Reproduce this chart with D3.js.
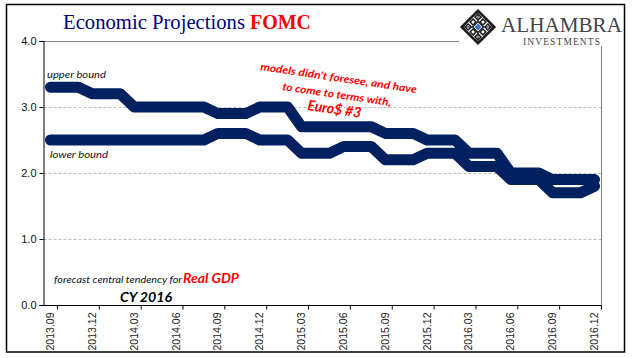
<!DOCTYPE html>
<html><head><meta charset="utf-8">
<script src="https://cdn.jsdelivr.net/npm/d3@7/dist/d3.min.js"></script>
<style>html,body{margin:0;padding:0;background:#fff}svg{display:block}</style>
</head><body><svg id="c" width="641" height="358"></svg>
<script>
const months=["2013.09","2013.10","2013.11","2013.12","2014.01","2014.02","2014.03","2014.04","2014.05","2014.06","2014.07","2014.08","2014.09","2014.10","2014.11","2014.12","2015.01","2015.02","2015.03","2015.04","2015.05","2015.06","2015.07","2015.08","2015.09","2015.10","2015.11","2015.12","2016.01","2016.02","2016.03","2016.04","2016.05","2016.06","2016.07","2016.08","2016.09","2016.10","2016.11","2016.12"];
const upperBound=[3.3,3.3,3.3,3.2,3.2,3.2,3.0,3.0,3.0,3.0,3.0,3.0,2.9,2.9,2.9,3.0,3.0,3.0,2.7,2.7,2.7,2.7,2.7,2.7,2.6,2.6,2.6,2.5,2.5,2.5,2.3,2.3,2.3,2.0,2.0,2.0,1.9,1.9,1.9,1.9];
const lowerBound=[2.5,2.5,2.5,2.5,2.5,2.5,2.5,2.5,2.5,2.5,2.5,2.5,2.6,2.6,2.6,2.5,2.5,2.5,2.3,2.3,2.3,2.4,2.4,2.4,2.2,2.2,2.2,2.3,2.3,2.3,2.1,2.1,2.1,1.9,1.9,1.9,1.7,1.7,1.7,1.8];
const yTicks=[0,1,2,3,4];
const tickMonths=months.filter((d,i)=>i%3===0);

const svg=d3.select("#c");
svg.append("rect").attr("x",6.5).attr("y",4.5).attr("width",618).attr("height",347.5)
  .attr("fill","#fff").attr("stroke","#000").attr("stroke-width",1.5);

const x=d3.scaleBand().domain(months).range([43.5,601.5]);
const y=d3.scaleLinear().domain([0,4]).range([305,41]);
const cx=d=>x(d)+x.bandwidth()/2;

// grid
svg.append("g").selectAll("line").data([1,2,3]).join("line")
  .attr("x1",x.range()[0]).attr("x2",x.range()[1]).attr("y1",d=>Math.round(y(d))+.5).attr("y2",d=>Math.round(y(d))+.5)
  .attr("stroke","#bdbdbd").attr("stroke-width",1).attr("stroke-dasharray","3 2");
// plot top / right border
svg.append("path").attr("d",`M${x.range()[0]},${y(4)+.5}H${x.range()[1]}V${y(0)}`)
  .attr("fill","none").attr("stroke","#808080").attr("stroke-width",1);

// series
const line=d3.line().x((d,i)=>cx(months[i])).y(d=>y(d));
[upperBound,lowerBound].forEach(s=>{
  svg.append("path").attr("d",line(s)).attr("fill","none").attr("stroke","#002060")
    .attr("stroke-width",11).attr("stroke-linejoin","round").attr("stroke-linecap","round");
});

// axes
const yAxis=svg.append("g").attr("transform",`translate(${x.range()[0]},0)`)
  .call(d3.axisLeft(y).tickValues(yTicks).tickFormat(d3.format(".1f")).tickSize(4).tickPadding(3));
yAxis.selectAll("path,line").attr("stroke","#000").attr("stroke-width",1);
yAxis.selectAll("text").attr("font-family","'Liberation Sans',Arial,sans-serif").attr("font-size",11).attr("fill","#111");

const xAxis=svg.append("g").attr("transform",`translate(0,${y(0)+.5})`)
  .call(d3.axisBottom(x).tickValues(tickMonths).tickSize(0).tickPadding(0));
xAxis.select(".domain").remove();
xAxis.selectAll("text").attr("font-family","'Liberation Sans',Arial,sans-serif").attr("font-size",10.5).attr("fill","#222")
  .attr("text-anchor","end").attr("dy",0)
  .attr("transform","translate(3.5,7) rotate(-90)");
const xMarks=svg.append("g").attr("transform",`translate(${x.bandwidth()/2},${y(0)+.5})`)
  .call(d3.axisBottom(x).tickValues(tickMonths).tickSize(4).tickFormat(""));
xMarks.select(".domain").remove();
xMarks.selectAll("line").attr("stroke","#000");
svg.append("line").attr("x1",x.range()[0]).attr("x2",x.range()[1]).attr("y1",y(0)+.5).attr("y2",y(0)+.5).attr("stroke","#000").attr("stroke-width",1.2);

// title
const serif="'Liberation Serif','Times New Roman',serif";
svg.append("text").attr("x",63).attr("y",29).attr("font-family",serif).attr("font-size",20).attr("fill","#000080")
  .attr("textLength",182).attr("lengthAdjust","spacingAndGlyphs").text("Economic Projections");
svg.append("text").attr("x",250).attr("y",29).attr("font-family",serif).attr("font-size",20).attr("font-weight","bold").attr("fill","#ff0000")
  .attr("textLength",61).attr("lengthAdjust","spacingAndGlyphs").text("FOMC");

// annotations
const ann="Lato,'Open Sans',sans-serif";
const note=(t,px,py,fs,fill,w,len)=>svg.append("text").attr("x",px).attr("y",py).attr("font-family",ann).attr("font-style","italic")
  .attr("font-size",fs).attr("font-weight",w).attr("fill",fill).attr("textLength",len).attr("lengthAdjust","spacingAndGlyphs").text(t);
note("upper bound",47,78,10,"#111","normal",59);
note("lower bound",50,158,10,"#111","normal",58);
note("forecast central tendency for",54,283,10,"#111","normal",128);
note("Real GDP",183,283,14,"#ff0000","bold",56);
note("CY 2016",120,302,14,"#000","bold",52);
const rot=(t,px,py,fs,len)=>svg.append("text").attr("transform",`translate(${px},${py}) rotate(8.4)`).attr("font-family",ann).attr("font-style","italic")
  .attr("font-weight","bold").attr("font-size",fs).attr("fill","#ff0000").attr("textLength",len).attr("lengthAdjust","spacingAndGlyphs").text(t);
rot("models didn't foresee, and have",260,70,10.5,158);
rot("to come to terms with,",282,90,10.5,110);
rot("Euro$ #3",307,110,14.5,54);

// logo
const logo=svg.append("g");
logo.append("rect").attr("x",459).attr("y",6).attr("width",164).attr("height",40).attr("fill","#fff");
const g=logo.append("g").attr("transform","translate(478,27) rotate(45)");
const sq=(s,fill,stroke,sw,ox=0,oy=0)=>g.append("rect").attr("x",ox-s/2).attr("y",oy-s/2).attr("width",s).attr("height",s).attr("fill",fill).attr("stroke",stroke).attr("stroke-width",sw);
sq(23,"#fff","#1a1a1a",2.6);
[-7,0,7].forEach(a=>[-7,0,7].forEach(b=>{ if(a||b) sq(4.2,"#fff","#1a1a1a",1.5,a,b); }));
g.append("path").attr("d","M-11,-11L11,11M-11,11L11,-11").attr("stroke","#1a1a1a").attr("stroke-width",1);
sq(7.5,"#fff","#1a1a1a",1.2);
sq(5,"#4472c4","none",0);
logo.append("text").attr("x",501).attr("y",31.5).attr("font-family",serif).attr("font-size",21).attr("fill","#444")
  .attr("textLength",121).attr("lengthAdjust","spacingAndGlyphs").text("ALHAMBRA");
logo.append("text").attr("x",523).attr("y",44.5).attr("font-family",serif).attr("font-size",9.5).attr("fill","#444")
  .attr("textLength",77).attr("lengthAdjust","spacing").text("INVESTMENTS");
</script></body></html>
